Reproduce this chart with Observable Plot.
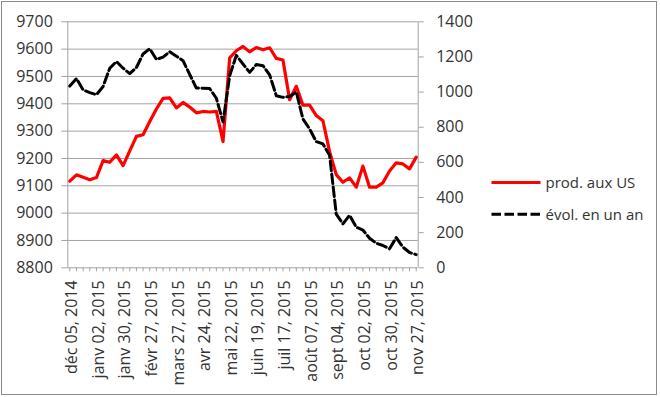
<!DOCTYPE html>
<html><head><meta charset="utf-8">
<script src="https://cdn.jsdelivr.net/npm/d3@7"></script>
<script src="https://cdn.jsdelivr.net/npm/@observablehq/plot@0.6"></script>
<style>
html,body{margin:0;padding:0;background:#fff;}
#wrap{position:relative;width:660px;height:397px;font-family:"Open Sans",sans-serif;overflow:hidden;}
#frame{position:absolute;left:0.5px;top:0.5px;width:656px;height:394px;border:1.5px solid #8a8a8a;box-sizing:border-box;pointer-events:none;}
#legend{position:absolute;left:0;top:0;pointer-events:none;}
</style></head>
<body><div id="wrap"><div id="frame"></div></div>
<script>
// ---- data ----
const tickLabels = ["déc 05, 2014","janv 02, 2015","janv 30, 2015","févr 27, 2015","mars 27, 2015","avr 24, 2015","mai 22, 2015","juin 19, 2015","juil 17, 2015","août 07, 2015","sept 04, 2015","oct 02, 2015","oct 30, 2015","nov 27, 2015"];
const seriesNames = ["prod. aux US", "évol. en un an"];
// production (left axis), weekly
const prodUS = [9117,9140,9131,9122,9130,9192,9186,9213,9174,9228,
                9281,9287,9335,9381,9420,9422,9385,9405,9388,9367,
                9372,9370,9372,9262,9568,9594,9610,9590,9606,9598,
                9605,9566,9560,9415,9464,9395,9395,9357,9338,9225,
                9141,9113,9129,9095,9172,9095,9095,9111,9154,9184,
                9180,9162,9205];
// year-on-year change (right axis)
const evolAn = [1034,1077,1012,997,985,1032,1136,1174,1136,1105,
                1140,1217,1247,1186,1199,1230,1204,1179,1100,1023,
                1022,1020,965,830,1093,1209,1160,1112,1157,1150,
                1098,979,970,975,1000,847,790,718,705,640,
                305,250,299,231,215,168,140,127,108,172,
                118,87,75];
const leftTicks = [8800,8900,9000,9100,9200,9300,9400,9500,9600,9700];
const rightTicks = [0,200,400,600,800,1000,1200,1400];

// ---- scales helpers ----
const L0 = 8800, L1 = 9700, R0 = 0, R1 = 1400;
const toLeft = v => L0 + (v - R0) * (L1 - L0) / (R1 - R0);
const toRight = v => Math.round(R0 + (v - L0) * (R1 - R0) / (L1 - L0));

const weeks = prodUS.map((v, i) => ({i, prod: v, evol: toLeft(evolAn[i])}));
const n = prodUS.length;
const idx = d3.range(n);
const labelIdx = d3.range(0, n, 4);

const grid = "#a3a3a3";
const txt = "#333";

const chart = Plot.plot({
  width: 660, height: 397,
  marginLeft: 67.3, marginRight: 242.3, marginTop: 21.3, marginBottom: 129.7,
  style: {fontFamily: "'Open Sans', sans-serif", fontSize: "16px", color: txt, background: "transparent"},
  x: {type: "linear", domain: [-0.3, n - 1 + 0.3], axis: null, label: null},
  y: {domain: [L0, L1], axis: null, label: null},
  marks: [
    Plot.ruleY(leftTicks, {stroke: grid, strokeWidth: 1}),
    Plot.axisY(leftTicks, {anchor: "left", tickSize: 6, tickPadding: 9, stroke: grid, fill: txt, fontSize: 16, label: null, tickFormat: d => String(d)}),
    Plot.axisY(rightTicks.map(toLeft), {anchor: "right", tickSize: 5, tickPadding: 13, stroke: grid, fill: txt, fontSize: 16, label: null, tickFormat: v => String(toRight(v))}),
    Plot.ruleX([-0.3, n - 1 + 0.3], {stroke: grid, strokeWidth: 1}),
    Plot.axisX(idx, {anchor: "bottom", tickSize: 4, stroke: grid, label: null, tickFormat: () => ""}),
    Plot.text(labelIdx, {x: d => d, y: () => L0, text: d => tickLabels[d / 4], rotate: -90, textAnchor: "end", lineAnchor: "middle", dy: 12.5, dx: 2, fontSize: 16, fill: txt}),
    Plot.line(weeks, {x: "i", y: "prod", stroke: "#ff0000", strokeWidth: 3.2, strokeLinejoin: "round"}),
    Plot.line(weeks, {x: "i", y: "evol", stroke: "#000000", strokeWidth: 3, strokeDasharray: "9.5,3.5", strokeLinejoin: "round"})
  ]
});
const wrap = document.getElementById("wrap");
chart.style.position = "absolute";
chart.style.left = "0"; chart.style.top = "0";
wrap.insertBefore(chart, wrap.firstChild);

// ---- legend ----
const ns = "http://www.w3.org/2000/svg";
const leg = document.createElementNS(ns, "svg");
leg.setAttribute("id", "legend");
leg.setAttribute("width", 660); leg.setAttribute("height", 397);
const rows = [
  {name: seriesNames[0], stroke: "#ff0000", dash: null, w: 3.2, y: 182.5, by: 188},
  {name: seriesNames[1], stroke: "#000000", dash: "9.5,3.5", w: 3, y: 214.3, by: 219.5}
];
for (const r of rows) {
  const ln = document.createElementNS(ns, "line");
  ln.setAttribute("x1", 491.5); ln.setAttribute("x2", 540.5);
  ln.setAttribute("y1", r.y); ln.setAttribute("y2", r.y);
  ln.setAttribute("stroke", r.stroke); ln.setAttribute("stroke-width", r.w);
  if (r.dash) ln.setAttribute("stroke-dasharray", r.dash);
  leg.appendChild(ln);
  const t = document.createElementNS(ns, "text");
  t.setAttribute("x", 545.5); t.setAttribute("y", r.by);
  t.setAttribute("fill", txt);
  t.setAttribute("font-family", "'Open Sans', sans-serif");
  t.setAttribute("font-size", 15);
  t.textContent = r.name;
  leg.appendChild(t);
}
wrap.appendChild(leg);
</script>
</body></html>
